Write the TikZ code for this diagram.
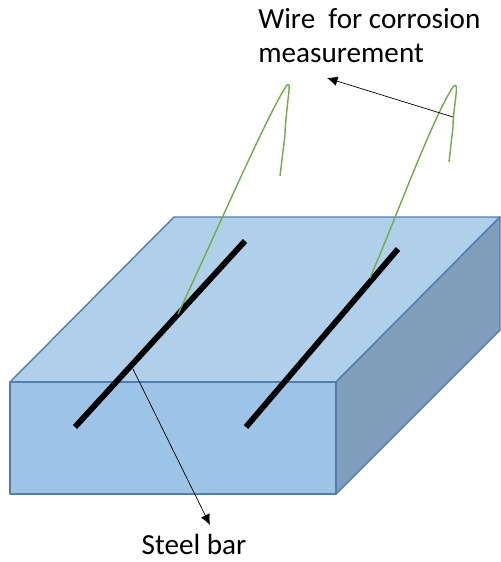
\documentclass[tikz,border=0pt]{standalone}
\usepackage{fontspec}
\usetikzlibrary{arrows.meta}
\setmainfont{Carlito}
\definecolor{palFront}{HTML}{9DC3E6}
\definecolor{palTop}{HTML}{AFCFEB}
\definecolor{palSide}{HTML}{7F9FBC}
\definecolor{palEdge}{HTML}{4F7FAE}
\definecolor{palWire}{HTML}{70AD47}

\begin{document}
\begin{tikzpicture}[
    x=0.02cm, y=-0.02cm,
    face/.style={draw=palEdge, line width=0.8pt, line join=round},
    bar/.style={black, line width=3.3pt},
    wire/.style={palWire, line width=0.8pt},
    arr/.style={-{Latex[length=6pt,width=5.5pt]}, black, line width=0.4pt},
    lbl/.style={font=\fontsize{16.6}{19.3}\selectfont, align=left, inner sep=0pt},
]
\useasboundingbox (0, 0) rectangle (501, 562);

% Block
\draw[face, fill=palTop] (10, 382) -- (174, 217) -- (500, 217) -- (336, 382) -- cycle;
\draw[face, fill=palSide] (336, 382) -- (500, 217) -- (500, 330) -- (336, 494) -- cycle;
\draw[face, fill=palFront] (10, 382) rectangle (336, 494);

% Steel bars
\coordinate (barA1) at (75, 427);
\coordinate (barA2) at (245, 241);
\coordinate (barB1) at (246, 427);
\coordinate (barB2) at (398, 249);
\draw[bar] (barA1) -- (barA2);
\draw[bar] (barB1) -- (barB2);

% Wires
\coordinate (wireA) at (178, 314);
\coordinate (wireB) at (370, 278);
\draw[wire] (wireA) .. controls (215, 235) and (265, 120) .. (285, 88)
    .. controls (289, 81) and (290, 84) .. (288.5, 95)
    .. controls (287, 110) and (285, 125) .. (285, 135) -- (280, 176);
\draw[wire] (wireB) .. controls (395, 220) and (430, 125) .. (451, 90)
    .. controls (456, 82) and (457, 84) .. (456, 95)
    .. controls (455, 105) and (453, 115) .. (453, 127) -- (449, 162);

% Labels
\node[lbl, anchor=base west] (wirelbl) at (258, 62) {Wire\ \ for corrosion\\measurement};
\node[lbl, anchor=base] (barlbl) at (194, 554) {Steel bar};

\coordinate (wirept) at (453, 117);
\coordinate (wiretip) at (327, 78);
\coordinate (barpt) at (133, 369);
\coordinate (bartip) at (210, 525);
\draw[arr] (wirept) -- (wiretip);
\draw[arr] (barpt) -- (bartip);

\end{tikzpicture}
\end{document}
